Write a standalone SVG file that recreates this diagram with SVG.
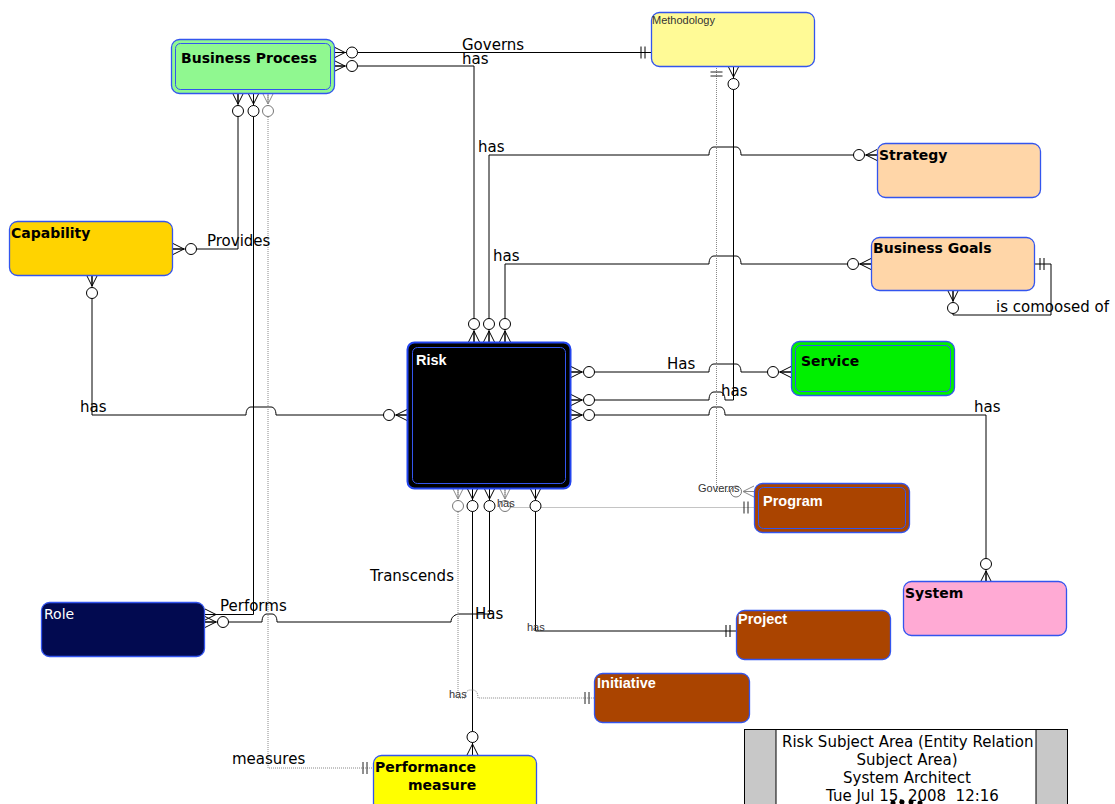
<svg xmlns="http://www.w3.org/2000/svg" width="1115" height="804" viewBox="0 0 1115 804">
<style>
.k{fill:none;stroke:#000;stroke-width:1}
.d{fill:none;stroke:#888;stroke-width:1;stroke-dasharray:1 1}
.box{stroke:#3355EE;stroke-width:1.3}
.in{fill:none;stroke:#3355EE;stroke-width:1}
.lbl{font-family:"DejaVu Sans",sans-serif;font-size:15px;fill:#000}
.sm{font-family:"Liberation Sans",Arial,sans-serif;font-size:11px;fill:#333}
.nb{font-family:"DejaVu Sans",sans-serif;font-size:14px;font-weight:bold;fill:#000}
.nw{font-family:"Liberation Sans",Arial,sans-serif;font-size:14.5px;font-weight:bold;fill:#fff}
.ttl{font-family:"DejaVu Sans",sans-serif;font-size:15px;fill:#000;white-space:pre}
</style>
<defs>
<marker id="zm" viewBox="-30 -10 32 20" refX="0" refY="0" markerWidth="32" markerHeight="20" markerUnits="userSpaceOnUse" orient="auto-start-reverse" overflow="visible">
<path d="M0,-5.5L-11,0L0,5.5M-11,0H0" fill="none" stroke="#000"/>
<circle cx="-18" cy="0" r="5.5" fill="#fff" stroke="#000"/>
</marker>
<marker id="zmg" viewBox="-30 -10 32 20" refX="0" refY="0" markerWidth="32" markerHeight="20" markerUnits="userSpaceOnUse" orient="auto-start-reverse" overflow="visible">
<path d="M0,-5.5L-11,0L0,5.5M-11,0H0" fill="none" stroke="#888"/>
<circle cx="-18" cy="0" r="5.5" fill="#fff" stroke="#777"/>
</marker>
<marker id="mn" viewBox="-30 -10 32 20" refX="0" refY="0" markerWidth="32" markerHeight="20" markerUnits="userSpaceOnUse" orient="auto-start-reverse" overflow="visible">
<path d="M0,-5.5L-11,0L0,5.5M-11,0H0" fill="none" stroke="#000"/>
</marker>
<marker id="one" viewBox="-30 -10 32 20" refX="0" refY="0" markerWidth="32" markerHeight="20" markerUnits="userSpaceOnUse" orient="auto-start-reverse" overflow="visible">
<path d="M-6,-6V6M-10,-6V6" fill="none" stroke="#000"/>
</marker>
<marker id="oneg" viewBox="-30 -10 32 20" refX="0" refY="0" markerWidth="32" markerHeight="20" markerUnits="userSpaceOnUse" orient="auto-start-reverse" overflow="visible">
<path d="M-6,-6V6M-10,-6V6" fill="none" stroke="#222"/>
</marker>
</defs>
<rect width="1115" height="804" fill="#fff"/>
<g id="connectors">
<path class="k" d="M334,52.5H651" marker-start="url(#zm)" marker-end="url(#one)"/>
<path class="k" d="M334,66H474V342" marker-start="url(#zm)" marker-end="url(#zm)"/>
<path class="k" d="M877,155H741C741,150 739,147 736,147H714C711,147 709,150 709,155H489V342" marker-start="url(#zm)" marker-end="url(#zm)"/>
<path class="k" d="M871,264H741C741,259 739,256 736,256H714C711,256 709,259 709,264H505V342" marker-start="url(#zm)" marker-end="url(#zm)"/>
<path class="k" d="M1034,264H1051V315H953V290" marker-start="url(#one)" marker-end="url(#zm)"/>
<path class="k" d="M173,249H238V93" marker-start="url(#zm)" marker-end="url(#zm)"/>
<path class="k" d="M253.5,93V614.5H205" marker-start="url(#zm)" marker-end="url(#mn)"/>
<path class="k" d="M489.5,488V614H460C455,614 451,617 451,622H277C277,617 275,614 272,614H267C264,614 262,617 262,622H205" marker-start="url(#zm)" marker-end="url(#zm)"/>
<path class="k" d="M472.5,488V755" marker-start="url(#zm)" marker-end="url(#zm)"/>
<path class="k" d="M407,415H276C276,410 274,407 271,407H251C248,407 246,410 246,415H92V275" marker-start="url(#zm)" marker-end="url(#zm)"/>
<path class="k" d="M571,372H709C709,367 711,364 714,364H736C739,364 741,367 741,372H791" marker-start="url(#zm)" marker-end="url(#zm)"/>
<path class="k" d="M733.5,66V400H725C725,395 723,392 720,392H714C711,392 709,395 709,400H571" marker-start="url(#zm)" marker-end="url(#zm)"/>
<path class="k" d="M571,415H709C709,410 711,407 714,407H720C723,407 725,410 725,415H986V582" marker-start="url(#zm)" marker-end="url(#zm)"/>
<path class="d" d="M716.5,66V491.5H754" marker-start="url(#oneg)" marker-end="url(#zmg)"/>
<path class="d" d="M505,488V507.5H754" marker-start="url(#zmg)" marker-end="url(#oneg)"/>
<path class="k" d="M535.5,488V631H736" marker-start="url(#zm)" marker-end="url(#one)"/>
<path class="d" d="M458,488V698H465C465,693 467,690 470,690H473C476,690 478,693 478,698H595" marker-start="url(#zmg)" marker-end="url(#oneg)"/>
<path class="d" d="M268,93V768H373" marker-start="url(#zmg)" marker-end="url(#oneg)"/>
<text class="lbl" x="462" y="50">Governs</text>
<text class="lbl" x="462" y="64">has</text>
<text class="lbl" x="478" y="152">has</text>
<text class="lbl" x="493" y="261">has</text>
<text class="lbl" x="996" y="312">is comoosed of</text>
<text class="lbl" x="207" y="246">Provides</text>
<text class="lbl" x="80" y="412">has</text>
<text class="lbl" x="667" y="369">Has</text>
<text class="lbl" x="721" y="396">has</text>
<text class="lbl" x="974" y="412">has</text>
<text class="lbl" x="220" y="611">Performs</text>
<text class="lbl" x="475" y="619">Has</text>
<text class="lbl" x="370" y="581">Transcends</text>
<text class="lbl" x="232" y="764">measures</text>
<text class="sm" x="698" y="492">Governs</text>
<text class="sm" x="497" y="507" fill="#666">has</text>
<text class="sm" x="527" y="631">has</text>
<text class="sm" x="449" y="698" fill="#555">has</text>
</g>
<g id="business-process">
<rect class="box" x="171.5" y="39.5" width="163" height="54" rx="8" fill="#90F890"/>
<rect class="in" x="175.5" y="43.5" width="155" height="46" rx="5"/>
<text class="nb" x="181" y="63">Business Process</text>
</g>
<g id="methodology">
<rect class="box" x="651.5" y="12.5" width="163" height="54" rx="8" fill="#FFFA96"/>
<text class="sm" x="652" y="24">Methodology</text>
</g>
<g id="strategy">
<rect class="box" x="877.5" y="143.5" width="163" height="54" rx="8" fill="#FFD6A8"/>
<text class="nb" x="879" y="160">Strategy</text>
</g>
<g id="business-goals">
<rect class="box" x="871.5" y="237.5" width="163" height="53" rx="8" fill="#FFD6A8"/>
<text class="nb" x="873" y="253" font-size="12.8">Business Goals</text>
</g>
<g id="capability">
<rect class="box" x="9.5" y="221.5" width="163" height="54" rx="8" fill="#FFD300"/>
<text class="nb" x="11" y="238">Capability</text>
</g>
<g id="risk">
<rect x="407.5" y="342.5" width="163" height="146" rx="7" fill="#000" stroke="#2244EE" stroke-width="2"/>
<rect class="in" x="412.5" y="347.5" width="153" height="136" rx="5"/>
<text class="nw" x="416" y="365" font-size="15">Risk</text>
</g>
<g id="service">
<rect class="box" x="791.5" y="341.5" width="163" height="54" rx="8" fill="#00F000"/>
<rect class="in" x="795.5" y="345.5" width="155" height="46" rx="5"/>
<text class="nb" x="801" y="366">Service</text>
</g>
<g id="program">
<rect class="box" x="754.5" y="483.5" width="155" height="49" rx="8" fill="#AA4400"/>
<rect class="in" x="758.5" y="487.5" width="147" height="41" rx="5"/>
<text class="nw" x="763" y="506">Program</text>
</g>
<g id="project">
<rect class="box" x="736.5" y="610.5" width="154" height="49" rx="8" fill="#AA4400"/>
<text class="nw" x="738" y="624">Project</text>
</g>
<g id="initiative">
<rect class="box" x="594.5" y="673.5" width="155" height="49" rx="8" fill="#AA4400"/>
<text class="nw" x="597" y="688">Initiative</text>
</g>
<g id="role">
<rect class="box" x="41.5" y="602.5" width="163" height="54" rx="8" fill="#020A50"/>
<text x="44" y="619" font-family="DejaVu Sans, sans-serif" font-size="14" fill="#fff">Role</text>
</g>
<g id="system">
<rect class="box" x="903.5" y="581.5" width="163" height="54" rx="8" fill="#FFAAD4"/>
<text class="nb" x="905" y="598">System</text>
</g>
<g id="performance-measure">
<rect class="box" x="373.5" y="755.5" width="163" height="60" rx="8" fill="#FFFF00"/>
<text class="nb" x="375" y="772">Performance</text>
<text class="nb" x="408" y="790">measure</text>
</g>
<g id="title-block">
<rect x="744.5" y="729.5" width="323" height="90" fill="#fff" stroke="#000"/>
<rect x="744.5" y="729.5" width="31.5" height="90" fill="#C8C8C8" stroke="#000"/>
<rect x="1036" y="729.5" width="31.5" height="90" fill="#C8C8C8" stroke="#000"/>
<text class="ttl" x="782" y="747">Risk Subject Area (Entity Relation</text>
<text class="ttl" x="907" y="765" text-anchor="middle">Subject Area)</text>
<text class="ttl" x="907" y="783" text-anchor="middle">System Architect</text>
<text class="ttl" x="826" y="801">Tue Jul 15, 2008  12:16</text>
<circle cx="893" cy="803" r="2.5" fill="#000"/>
<circle cx="902" cy="802" r="2.5" fill="#000"/>
<circle cx="911" cy="802" r="2.5" fill="#000"/>
<circle cx="920" cy="803" r="2.5" fill="#000"/>
</g>
</svg>
